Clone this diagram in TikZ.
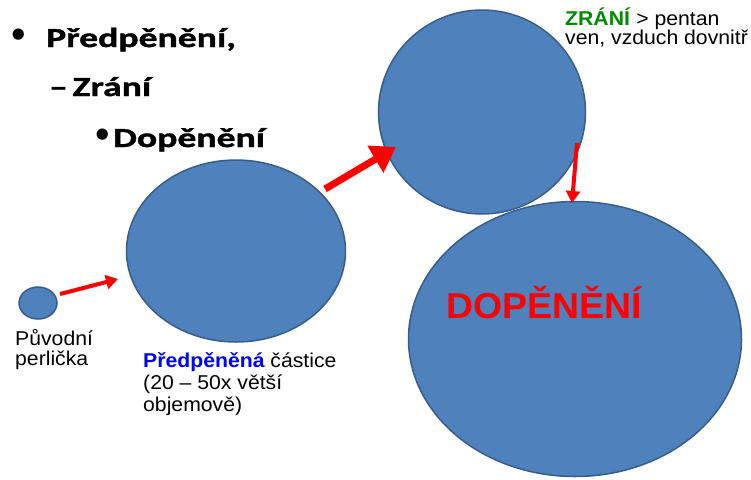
\documentclass[tikz,border=0pt]{standalone}
\usepackage{fontspec}
\setmainfont[FakeStretch=1.06]{Liberation Sans}
\newfontfamily\hdfont[FakeStretch=1.37,FakeBold=1.4]{Carlito Bold}
\newfontfamily\bulfont{DejaVu Sans Bold}
\newfontfamily\bigfont[FakeStretch=1.04]{Liberation Sans Bold}
\usetikzlibrary{shapes.geometric,arrows.meta}
\definecolor{bfill}{HTML}{4F81BD}
\definecolor{bdraw}{HTML}{385D8A}
\definecolor{zgreen}{HTML}{008A00}
\begin{document}
\begin{tikzpicture}[x=1pt,y=-1pt,
  bub/.style={ellipse,fill=bfill,draw=bdraw,line width=1.5pt,inner sep=0pt},
  head/.style={anchor=base west,inner sep=0pt,font=\hdfont\fontsize{27.5}{30}\selectfont},
  bul/.style={anchor=center,inner sep=0pt,font=\bulfont\fontsize{32}{34}\selectfont},
  lbl/.style={anchor=base west,inner sep=0pt,font=\fontsize{20}{22}\selectfont},
  rarrow/.style={draw=red,line width=4pt,-{Triangle[length=12pt,width=14pt]}},
  barrow/.style={draw=red,line width=7pt,-{Triangle[length=24pt,width=30pt]}}]
\useasboundingbox (0,0) rectangle (751,479);
% bubbles
\node[bub,minimum width=38pt,minimum height=32pt] (small) at (38,303) {};
\node[bub,minimum width=219pt,minimum height=182pt] (mid) at (236,251) {};
\node[bub,minimum width=207pt,minimum height=204pt] (top) at (482,112) {};
\node[bub,minimum width=333pt,minimum height=275pt] (big) at (575,339) {};
% headings
\node[bul] (h1b) at (19,38) {•};
\node[head] (h1) at (46,47) {Předpěnění,};
\node[head] (h2) at (49,96) {–\,Zrání};
\node[bul] (h3b) at (103,138) {•};
\node[head] (h3) at (113,147) {Dopěnění};
% labels
\node[lbl] (zr1) at (565,25) {\textcolor{zgreen}{\textbf{ZRÁNÍ}} > pentan};
\node[lbl] (zr2) at (565,44) {ven, vzduch dovnitř};
\node[anchor=base west,inner sep=0pt,text=red,font=\bigfont\fontsize{36}{40}\selectfont] (dop) at (446,318) {DOPĚNĚNÍ};
\node[lbl] (pv1) at (15,345) {Původní};
\node[lbl] (pv2) at (15,365) {perlička};
\node[lbl] (pp1) at (143,367) {\textcolor{blue}{\textbf{Předpěněná}} částice};
\node[lbl] (pp2) at (143,389) {(20 – 50x větší};
\node[lbl] (pp3) at (143,411) {objemově)};
% arrows
\coordinate (a1s) at (60,294);
\coordinate (a1e) at (118,279);
\coordinate (a2s) at (325,189);
\coordinate (a2e) at (396,147);
\coordinate (a3s) at (577,143);
\coordinate (a3e) at (572,203);
\draw[rarrow] (a1s) -- (a1e);
\draw[barrow] (a2s) -- (a2e);
\draw[rarrow] (a3s) -- (a3e);
\end{tikzpicture}
\end{document}
